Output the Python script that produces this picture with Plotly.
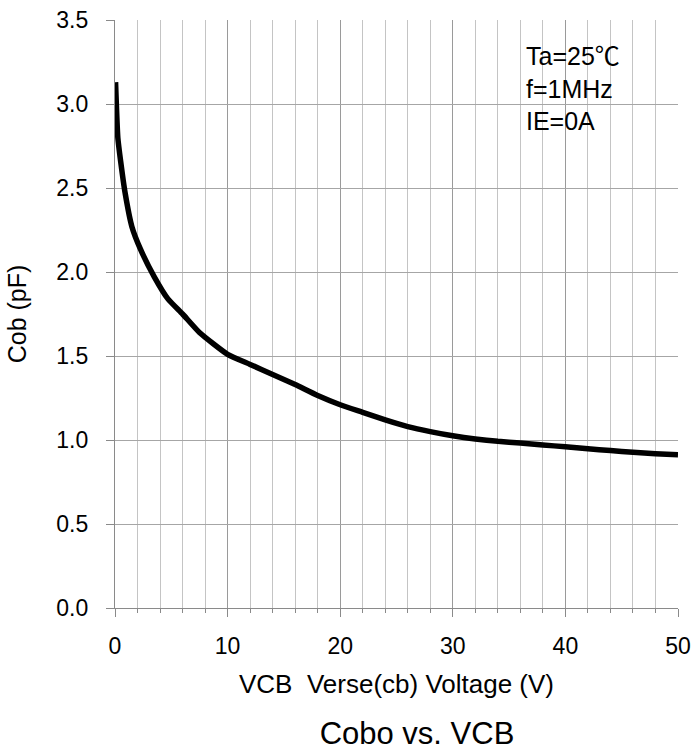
import plotly.graph_objects as go

vcb = [0.05, 0.25, 0.5, 0.9, 1.5, 2.3, 3.5, 4.7, 6, 7.5, 10, 12, 14, 16, 18, 20, 22,
       24, 26, 28, 30, 32, 34, 36, 38, 40, 42, 44, 46, 48, 50]
cob = [3.13, 2.8, 2.66, 2.47, 2.27, 2.13, 1.97, 1.84, 1.75, 1.64, 1.51, 1.45, 1.39,
       1.33, 1.265, 1.21, 1.165, 1.12, 1.08, 1.05, 1.025, 1.006, 0.992, 0.982, 0.970,
       0.960, 0.948, 0.937, 0.927, 0.918, 0.912]

x_ticks = [0, 10, 20, 30, 40, 50]
y_ticks = [0.0, 0.5, 1.0, 1.5, 2.0, 2.5, 3.0, 3.5]
y_tick_text = ["0.0", "0.5", "1.0", "1.5", "2.0", "2.5", "3.0", "3.5"]
conditions = ["Ta=25℃", "f=1MHz", "IE=0A"]

FONT = "Liberation Sans, Arial, Noto Sans CJK SC, sans-serif"

fig = go.Figure()
fig.add_trace(go.Scatter(
    x=vcb, y=cob, mode="lines",
    line=dict(color="black", width=5.5, shape="spline", smoothing=0.5),
    showlegend=False, hoverinfo="skip"))

fig.add_annotation(
    x=36.35, y=3.094, xref="x", yref="y", xanchor="left", yanchor="middle",
    text="<br>".join(conditions), showarrow=False, align="left",
    font=dict(family=FONT, size=25, color="black"))

fig.update_layout(
    width=694, height=751,
    margin=dict(l=115, r=16, t=20, b=143),
    paper_bgcolor="white", plot_bgcolor="white",
    font=dict(family=FONT, color="black"),
    title=dict(text="Cobo vs. VCB", x=417 / 694, xref="container", xanchor="center",
               y=1 - 733 / 751, yref="container", yanchor="middle",
               automargin=False,
               font=dict(family=FONT, size=31, color="black")),
)

fig.update_xaxes(
    range=[0, 50], tickvals=x_ticks, ticktext=[str(v) for v in x_ticks],
    automargin=False,
    showgrid=True, gridcolor="#9a9a9a", gridwidth=1.3,
    ticks="outside", ticklen=8, tickcolor="#8a8a8a", tickwidth=1.3,
    showline=True, linecolor="#8a8a8a", linewidth=1.3,
    zeroline=False,
    minor=dict(dtick=2, showgrid=True, gridcolor="#c4c4c4", gridwidth=1.3,
               ticks="outside", ticklen=4, tickcolor="#8a8a8a"),
    tickfont=dict(family=FONT, size=23, color="black"),
    ticklabelstandoff=9,
    title=dict(text="VCB\u00a0 Verse(cb) Voltage (V)", standoff=17,
               font=dict(family=FONT, size=26, color="black")),
)
fig.update_yaxes(
    range=[0, 3.5], tickvals=y_ticks, ticktext=y_tick_text,
    automargin=False,
    showgrid=True, gridcolor="#a6a6a6", gridwidth=1.3,
    ticks="outside", ticklen=8, tickcolor="#8a8a8a", tickwidth=1.3,
    showline=True, linecolor="#8a8a8a", linewidth=1.3,
    zeroline=False,
    tickfont=dict(family=FONT, size=23, color="black"),
    ticklabelstandoff=13,
    title=dict(text="Cob (pF)", standoff=22,
               font=dict(family=FONT, size=25, color="black")),
)

fig.write_html("out.html", config={"displayModeBar": False},
               post_script="document.body.style.margin='0px';document.body.style.overflow='hidden';")
